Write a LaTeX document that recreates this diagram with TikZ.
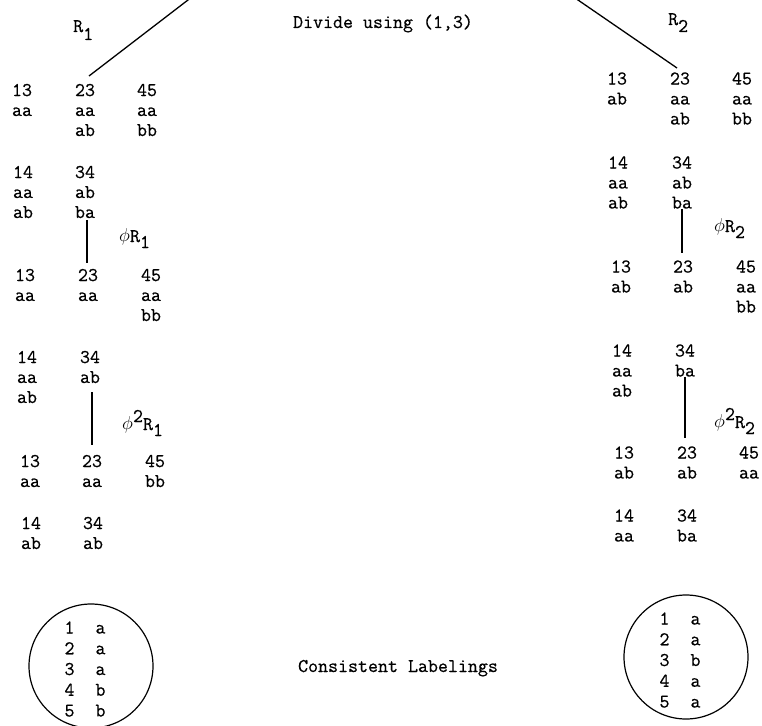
\documentclass[tikz,border=0pt]{standalone}
\usepackage{fontspec}
\newfontfamily\twfam{Latin Modern Mono}[FakeBold=0.6]
\newcommand\stk[1]{\vtop{\baselineskip=20pt\lineskiplimit=-10pt\halign{\hfil##\hfil\cr#1\crcr}}}
\newcommand\tbl[1]{\vtop{\baselineskip=20.75pt\lineskiplimit=-10pt\halign{##\hfil&\hskip21pt##\hfil\cr#1\crcr}}}
\newcommand\lo[1]{\raisebox{-6pt}{#1}}
\newcommand\hi[1]{\raisebox{8pt}{#1}}
\newcommand\tw{\twfam\fontsize{19.4}{20}\selectfont}
\newcommand\ph{\raisebox{1pt}{\scalebox{0.9}{$\phi$}}}
\begin{document}
\begin{tikzpicture}[x=1pt,y=-1pt,
  txt/.style={inner sep=0pt, anchor=base, font=\tw},
  lbl/.style={inner sep=0pt, anchor=base west, font=\tw},
  wire/.style={line width=1.3pt},
  ring/.style={draw, circle, line width=1.2pt, minimum size=124pt, inner sep=0pt}]
\useasboundingbox (0,0) rectangle (762,725);
\node[txt] (title) at (383,28) {Divide using (1,3)};
\node[lbl] (r1) at (73,32) {R\raisebox{-8pt}{1}};
\node[lbl] (r2) at (668,25) {R\raisebox{-7pt}{2}};
% left
\node[txt] (L1a) at (22,96) {\stk{13\cr aa}};
\node[txt] (L1b) at (85,96) {\stk{23\cr aa\cr ab}};
\node[txt] (L1c) at (147,96) {\stk{45\cr aa\cr bb}};
\node[txt] (L2a) at (23,178) {\stk{14\cr aa\cr ab}};
\node[txt] (L2b) at (85,178) {\stk{34\cr ab\cr ba}};
\node[txt] (L3a) at (25,281) {\stk{13\cr aa}};
\node[txt] (L3b) at (88,281) {\stk{23\cr aa}};
\node[txt] (L3c) at (151,281) {\stk{45\cr aa\cr bb}};
\node[txt] (L4a) at (27,363) {\stk{14\cr aa\cr ab}};
\node[txt] (L4b) at (90,363) {\stk{34\cr ab}};
\node[txt] (L5a) at (30,467) {\stk{13\cr aa}};
\node[txt] (L5b) at (92,467) {\stk{23\cr aa}};
\node[txt] (L5c) at (155,467) {\stk{45\cr bb}};
\node[txt] (L6a) at (31,529) {\stk{14\cr ab}};
\node[txt] (L6b) at (93,529) {\stk{34\cr ab}};
% right
\node[txt] (R1a) at (617,84.5) {\stk{13\cr ab}};
\node[txt] (R1b) at (680,84.5) {\stk{23\cr aa\cr ab}};
\node[txt] (R1c) at (742,84.5) {\stk{45\cr aa\cr bb}};
\node[txt] (R2a) at (618,168.5) {\stk{14\cr aa\cr ab}};
\node[txt] (R2b) at (682,168.5) {\stk{34\cr ab\cr ba}};
\node[txt] (R3a) at (621,272.5) {\stk{13\cr ab}};
\node[txt] (R3b) at (683,272.5) {\stk{23\cr ab}};
\node[txt] (R3c) at (746,272.5) {\stk{45\cr aa\cr bb}};
\node[txt] (R4a) at (622,356.5) {\stk{14\cr aa\cr ab}};
\node[txt] (R4b) at (685,356.5) {\stk{34\cr ba}};
\node[txt] (R5a) at (624,458.5) {\stk{13\cr ab}};
\node[txt] (R5b) at (687,458.5) {\stk{23\cr ab}};
\node[txt] (R5c) at (749,458.5) {\stk{45\cr aa}};
\node[txt] (R6a) at (624,521.5) {\stk{14\cr aa}};
\node[txt] (R6b) at (687,521.5) {\stk{34\cr ba}};
% phi labels
\node[lbl] (phiL1) at (119,242) {\ph R\lo{1}};
\node[lbl] (phiL2) at (122,430) {\ph\hi{2}R\lo{1}};
\node[lbl] (phiR1) at (714,232) {\ph R\lo{2}};
\node[lbl] (phiR2) at (714,428) {\ph\hi{2}R\lo{2}};
% circles
\node[ring] (C1) at (91,666) {};
\node[txt] (T1) at (85,633.5) {\tbl{1&a\cr 2&a\cr 3&a\cr 4&b\cr 5&b}};
\node[ring] (C2) at (686,657) {};
\node[txt] (T2) at (680,624.5) {\tbl{1&a\cr 2&a\cr 3&b\cr 4&a\cr 5&a}};
\node[txt] (cons) at (398,672) {Consistent Labelings};
% connectors
\coordinate (topL) at (194.5,-5);
\coordinate (topR) at (570.7,-5);
\draw[wire] ([xshift=4pt,yshift=20pt]L1b.base) -- (topL);
\draw[wire] ([xshift=-3pt,yshift=16.5pt]R1b.base) -- (topR);
\draw[wire,shorten <=2pt,shorten >=6pt] ([xshift=2pt]L2b.south) -- ([xshift=2pt]L2b.south |- L3b.north);
\draw[wire,shorten <=9pt,shorten >=10pt] (L5b.north |- L4b.south) -- (L5b.north);
\draw[wire,shorten >=7.5pt] (R2b.south) -- (R2b.south |- R3b.north);
\draw[wire,shorten >=8.5pt] (R4b.south) -- (R4b.south |- R5b.north);
\end{tikzpicture}
\end{document}
